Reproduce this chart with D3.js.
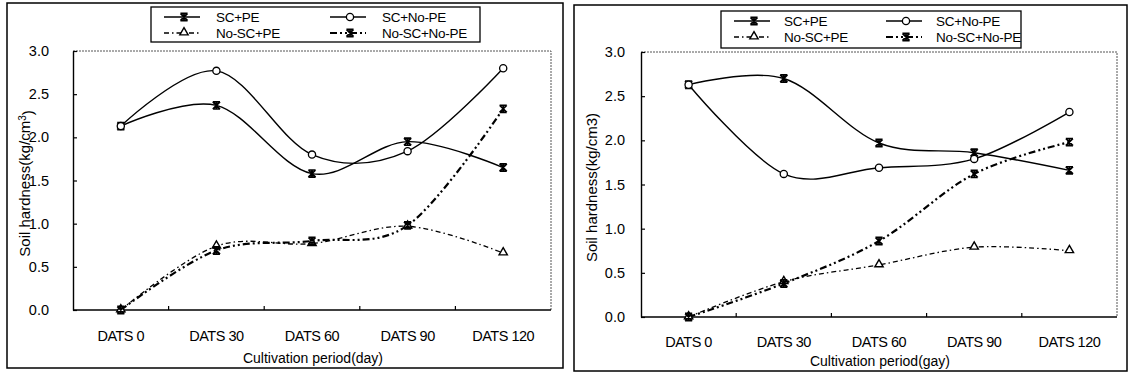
<!DOCTYPE html>
<html>
<head>
<meta charset="utf-8">
<script src="https://cdn.jsdelivr.net/npm/d3@7"></script>
<style>
  body { margin: 0; background: #fff; }
  svg text { font-family: "Liberation Sans", Arial, sans-serif; fill: #000; }
</style>
</head>
<body>
<svg id="chart" width="1128" height="376"></svg>
<script>
// Data
const categories = ["DATS 0", "DATS 30", "DATS 60", "DATS 90", "DATS 120"];
const seriesNames = ["SC+PE", "SC+No-PE", "No-SC+PE", "No-SC+No-PE"];
const yTicks = [0, 0.5, 1.0, 1.5, 2.0, 2.5, 3.0];

// left panel
const leftScPe = [2.13, 2.37, 1.58, 1.95, 1.65];
const leftScNoPe = [2.13, 2.77, 1.80, 1.84, 2.80];
const leftNoScPe = [0, 0.74, 0.77, 0.97, 0.66];
const leftNoScNoPe = [0, 0.69, 0.80, 0.98, 2.33];

// right panel
const rightScPe = [2.63, 2.70, 1.97, 1.86, 1.66];
const rightScNoPe = [2.63, 1.62, 1.69, 1.79, 2.32];
const rightNoScPe = [0, 0.40, 0.59, 0.79, 0.75];
const rightNoScNoPe = [0, 0.38, 0.86, 1.62, 1.98];

// line style per series (same order as seriesNames)
const styles = [
    {dash: null, width: 1.4, marker: "star"},
    {dash: null, width: 1.4, marker: "circle"},
    {dash: "5,3,1.5,3", width: 1.3, marker: "triangle"},
    {dash: "7,3,2,3,2,3", width: 2.2, marker: "star"}
];

const svg = d3.select("#chart");

const panels = [
    {
        box: [7, 3, 563, 368],
        plot: {left: 73, right: 551, top: 51, bottom: 310},
        legend: {x: 151, y: 7, w: 329, h: 35, col2: 166, textOff: 52},
        values: [leftScPe, leftScNoPe, leftNoScPe, leftNoScNoPe],
        yTitleX: 25, yTitle: "sup",
        tickLabelY: 341, xTitleY: 363, xTitle: "Cultivation period(day)", yLabelGap: 24
    },
    {
        box: [574, 5, 1127, 371],
        plot: {left: 641, right: 1117, top: 52, bottom: 317},
        legend: {x: 721, y: 11, w: 300, h: 37, col2: 152, textOff: 50},
        values: [rightScPe, rightScNoPe, rightNoScPe, rightNoScNoPe],
        yTitleX: 592, yTitle: "plain",
        tickLabelY: 347, xTitleY: 366, xTitle: "Cultivation period(gay)", yLabelGap: 16
    }
];

function drawMarker(g, type, x, y) {
    if (type === "circle") {
        g.append("circle").attr("cx", x).attr("cy", y).attr("r", 3.6)
            .attr("fill", "#fff").attr("stroke", "#000").attr("stroke-width", 1.3);
    } else if (type === "triangle") {
        g.append("path").attr("d", d3.symbol(d3.symbolTriangle, 30)())
            .attr("transform", "translate(" + x + "," + (y - 0.5) + ")")
            .attr("fill", "#fff").attr("stroke", "#000").attr("stroke-width", 1.4);
    } else {
        const s = 3.6;
        g.append("path")
            .attr("d", "M" + (x - s) + "," + (y - s) + "L" + (x + s) + "," + (y + s) +
                "M" + (x + s) + "," + (y - s) + "L" + (x - s) + "," + (y + s) +
                "M" + x + "," + (y - s - 0.5) + "L" + x + "," + (y + s + 0.5) +
                "M" + (x - s) + "," + (y - s) + "L" + (x + s) + "," + (y - s) +
                "M" + (x - s) + "," + (y + s) + "L" + (x + s) + "," + (y + s))
            .attr("fill", "none").attr("stroke", "#000").attr("stroke-width", 1.7);
    }
}

panels.forEach(function(p) {
    const g = svg.append("g");

    // outer frame
    g.append("rect")
        .attr("x", p.box[0]).attr("y", p.box[1])
        .attr("width", p.box[2] - p.box[0]).attr("height", p.box[3] - p.box[1])
        .attr("fill", "none").attr("stroke", "#000").attr("stroke-width", 1.5);

    const x = d3.scaleBand().domain(categories).range([p.plot.left, p.plot.right]);
    const y = d3.scaleLinear().domain([0, 3]).range([p.plot.bottom, p.plot.top]);

    // dotted top / right border of plot area
    g.append("path")
        .attr("d", "M" + p.plot.left + "," + p.plot.top + "H" + p.plot.right + "V" + p.plot.bottom)
        .attr("fill", "none").attr("stroke", "#555").attr("stroke-width", 1)
        .attr("stroke-dasharray", "2,1");

    // y axis
    const yAxis = g.append("g")
        .attr("transform", "translate(" + p.plot.left + ",0)")
        .call(d3.axisLeft(y).tickValues(yTicks).tickFormat(d3.format(".1f"))
            .tickSizeInner(-4).tickSizeOuter(0).tickPadding(p.yLabelGap));
    yAxis.select(".domain").attr("stroke", "#000").attr("stroke-width", 1.4);
    yAxis.selectAll(".tick line").attr("stroke-width", 1.2);
    yAxis.selectAll("text").style("font-size", "14.5px").attr("fill", "#000");

    // x axis: ticks at category boundaries
    const bounds = categories.slice(1).map(c => x(c));
    const xAxis = g.append("g")
        .attr("transform", "translate(0," + p.plot.bottom + ")")
        .call(d3.axisBottom(x).tickSize(0).tickFormat(""));
    xAxis.select(".domain").attr("d", "M" + p.plot.left + ",0H" + p.plot.right)
        .attr("stroke", "#000").attr("stroke-width", 1.6);
    xAxis.selectAll(".bound").data(bounds).enter().append("line")
        .attr("x1", d => d).attr("x2", d => d).attr("y1", 0).attr("y2", -4)
        .attr("stroke", "#000").attr("stroke-width", 1.2);
    g.selectAll(".xlab").data(categories).enter().append("text")
        .attr("x", d => x(d) + x.bandwidth() / 2)
        .attr("y", p.tickLabelY)
        .attr("text-anchor", "middle")
        .style("font-size", "14.5px")
        .style("letter-spacing", "-0.5px")
        .text(d => d);

    // axis titles
    g.append("text")
        .attr("x", (p.plot.left + p.plot.right) / 2 + 1)
        .attr("y", p.xTitleY)
        .attr("text-anchor", "middle")
        .style("font-size", "14px")
        .text(p.xTitle);

    const yt = g.append("text")
        .attr("transform", "translate(" + p.yTitleX + "," + ((p.plot.top + p.plot.bottom) / 2 + 3) + ") rotate(-90)")
        .attr("text-anchor", "middle")
        .attr("dy", "0.35em")
        .style("font-size", "15px");
    if (p.yTitle === "sup") {
        yt.append("tspan").text("Soil hardness(kg/cm");
        yt.append("tspan").attr("dy", "-0.45em").style("font-size", "10px").text("3");
        yt.append("tspan").attr("dy", "0.45em").text(")");
    } else {
        yt.text("Soil hardness(kg/cm3)");
    }

    // series lines
    const line = d3.line()
        .x((d, i) => x(categories[i]) + x.bandwidth() / 2)
        .y(d => y(d))
        .curve(d3.curveCardinal.tension(0));

    p.values.forEach(function(vals, si) {
        g.append("path")
            .datum(vals)
            .attr("d", line)
            .attr("fill", "none")
            .attr("stroke", "#000")
            .attr("stroke-width", styles[si].width)
            .attr("stroke-dasharray", styles[si].dash);
    });
    p.values.forEach(function(vals, si) {
        vals.forEach(function(v, i) {
            drawMarker(g, styles[si].marker, x(categories[i]) + x.bandwidth() / 2, y(v));
        });
    });

    // legend
    const L = p.legend;
    g.append("rect")
        .attr("x", L.x).attr("y", L.y).attr("width", L.w).attr("height", L.h)
        .attr("fill", "#fff").attr("stroke", "#000").attr("stroke-width", 1.3);
    seriesNames.forEach(function(name, si) {
        const col = si % 2, row = Math.floor(si / 2);
        const sx = L.x + 13 + col * L.col2;
        const sy = L.y + 10 + row * 16;
        g.append("line")
            .attr("x1", sx).attr("x2", sx + 36).attr("y1", sy).attr("y2", sy)
            .attr("stroke", "#000")
            .attr("stroke-width", styles[si].width)
            .attr("stroke-dasharray", styles[si].dash);
        drawMarker(g, styles[si].marker, sx + 20, sy);
        g.append("text")
            .attr("x", sx + L.textOff)
            .attr("y", sy)
            .attr("dy", "0.35em")
            .style("font-size", "13.5px")
            .style("letter-spacing", "-0.3px")
            .text(name);
    });
});
</script>
</body>
</html>
